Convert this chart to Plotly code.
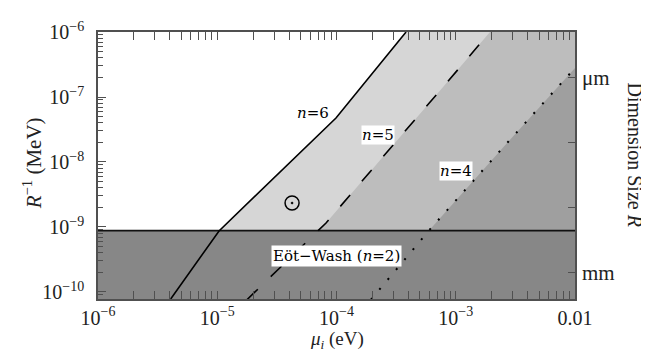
import plotly.graph_objects as go

# ---- data ----
mu_range = [1e-6, 1e-2]          # x-axis extent (eV)
R_range = [7.8e-11, 1e-6]        # y-axis extent (MeV)
eot_wash = 8.8e-10               # Eot-Wash bound on R^-1 (MeV)

n6_mu = [4.07e-6, 1.035e-5, 9.9e-5, 3.83e-4]
n6_R = [7.8e-11, 8.7e-10, 4.75e-8, 1.0e-6]
n5_mu = [1.778e-5, 8.17e-5, 8.61e-4, 1.936e-3]
n5_R = [7.62e-11, 1.153e-9, 1.746e-7, 1.0e-6]
n4_mu = [1.945e-4, 6.05e-4, 2.742e-3, 1.0e-2]
n4_R = [7.62e-11, 9.10e-10, 2.03e-8, 2.79e-7]

sun_mu = [4.24e-5]
sun_R = [2.34e-9]

x_tickvals = [1e-6, 1e-5, 1e-4, 1e-3, 1e-2]
x_ticktext = ["10<sup>\u22126</sup>", "10<sup>\u22125</sup>", "10<sup>\u22124</sup>",
              "10<sup>\u22123</sup>", "0.01"]
y_tickvals = [1e-10, 1e-9, 1e-8, 1e-7, 1e-6]
y_ticktext = ["10<sup>\u221210</sup>", "10<sup>\u22129</sup>", "10<sup>\u22128</sup>",
              "10<sup>\u22127</sup>", "10<sup>\u22126</sup>"]
size_tickvals = [1.973e-7, 1.973e-8, 1.973e-9, 1.973e-10]   # 1 um, 10 um, 100 um, 1 mm
size_ticktext = ["\u03bcm", "", "", "mm"]

x_minor = [m * 10.0 ** k for k in range(-6, -2) for m in range(2, 10)]
y_minor = [m * 10.0 ** k for k in range(-11, -6) for m in range(2, 10)]

c_n6 = "#d6d6d6"
c_n5 = "#bdbdbd"
c_n4 = "#9f9f9f"
c_ew = "#878787"
axc = "#505050"
TF = "Liberation Serif, DejaVu Serif, serif"
AF = "DejaVu Serif, Liberation Serif, serif"

xmin, xmax = mu_range
ymin, ymax = R_range

fig = go.Figure()


def poly(xs, ys, color):
    fig.add_trace(go.Scatter(x=xs, y=ys, mode="lines", fill="toself", fillcolor=color,
                             line=dict(width=0, color=color), hoverinfo="skip",
                             showlegend=False))


poly(n6_mu + [xmax, xmax], n6_R + [ymax, ymin], c_n6)
poly(n5_mu + [xmax, xmax], n5_R + [ymax, ymin], c_n5)
poly(n4_mu + [xmax], n4_R + [ymin], c_n4)
poly([xmin, xmin, xmax, xmax], [ymin, eot_wash, eot_wash, ymin], c_ew)

fig.add_trace(go.Scatter(x=[xmin, xmax], y=[eot_wash, eot_wash], mode="lines",
                         line=dict(color="#111", width=1.6), showlegend=False, hoverinfo="skip"))
fig.add_trace(go.Scatter(x=n6_mu, y=n6_R, mode="lines",
                         line=dict(color="black", width=1.6), showlegend=False))
fig.add_trace(go.Scatter(x=n5_mu, y=n5_R, mode="lines",
                         line=dict(color="black", width=1.6, dash="15px,18px"), showlegend=False))
fig.add_trace(go.Scatter(x=n4_mu, y=n4_R, mode="lines",
                         line=dict(color="black", width=2, dash="2px,11px"), showlegend=False))
fig.add_trace(go.Scatter(x=sun_mu, y=sun_R, mode="markers",
                         marker=dict(symbol="circle-open-dot", size=14, color="black",
                                     line=dict(width=1.5, color="black")),
                         showlegend=False))
# trace carrying the right-hand size axis
fig.add_trace(go.Scatter(x=[xmin], y=[ymax], yaxis="y2", mode="none", showlegend=False,
                         hoverinfo="skip"))

fig.update_layout(
    width=649, height=352,
    margin=dict(l=90, r=82, t=24, b=61),
    paper_bgcolor="white", plot_bgcolor="white",
    font=dict(family=TF, size=20, color="#222"),
    xaxis=dict(type="log", range=[-6, -2], tickvals=x_tickvals, ticktext=x_ticktext,
               ticks="inside", ticklen=8, tickwidth=1.2, tickcolor=axc,
               showline=True, linecolor=axc, linewidth=1.5, mirror="allticks",
               showgrid=False, zeroline=False, tickfont=dict(family=TF, size=20),
               ticklabelstandoff=0,
               minor=dict(tickmode="array", tickvals=x_minor, ticks="inside", ticklen=5,
                          tickwidth=1.2, tickcolor=axc, showgrid=False)),
    yaxis=dict(type="log", range=[-10.108, -6], tickvals=y_tickvals, ticktext=y_ticktext,
               ticks="inside", ticklen=8, tickwidth=1.2, tickcolor=axc,
               showline=True, linecolor=axc, linewidth=1.5, mirror=True,
               showgrid=False, zeroline=False, tickfont=dict(family=TF, size=20),
               ticklabelstandoff=8,
               minor=dict(tickmode="array", tickvals=y_minor, ticks="inside", ticklen=5,
                          tickwidth=1.2, tickcolor=axc, showgrid=False)),
    yaxis2=dict(type="log", range=[-10.108, -6], overlaying="y", side="right", anchor="x",
                tickvals=size_tickvals, ticktext=size_ticktext, ticks="inside", ticklen=7,
                tickwidth=1.2, tickcolor=axc, showline=False, showgrid=False, zeroline=False,
                tickfont=dict(family=TF, size=21), ticklabelstandoff=6),
    annotations=[
        dict(x=-4.197, y=-7.246, xref="x", yref="y", text="<i>n</i>=6", showarrow=False,
             font=dict(family=AF, size=15, color="black")),
        dict(x=-3.652, y=-7.585, xref="x", yref="y", text="<i>n</i>=5", showarrow=False,
             font=dict(family=AF, size=15, color="black"), bgcolor="white", borderpad=0),
        dict(x=-2.998, y=-8.138, xref="x", yref="y", text="<i>n</i>=4", showarrow=False,
             font=dict(family=AF, size=15, color="black"), bgcolor="white", borderpad=0),
        dict(x=-4.004, y=-9.454, xref="x", yref="y", text="E\u00f6t\u2212Wash (<i>n</i>=2)",
             showarrow=False, font=dict(family=AF, size=15, color="black"),
             bgcolor="white", borderpad=1),
        dict(x=0.5, y=-0.155, xref="paper", yref="paper", xanchor="center", yanchor="middle",
             text="<i>\u03bc<sub>i</sub></i> (eV)", showarrow=False,
             font=dict(family=TF, size=19, color="#222")),
        dict(x=-0.138, y=0.509, xref="paper", yref="paper", xanchor="center", yanchor="middle",
             text="<i>R</i><sup>\u22121</sup> (MeV)", textangle=-90, showarrow=False,
             font=dict(family=TF, size=21, color="#222")),
        dict(x=1.126, y=0.541, xref="paper", yref="paper", xanchor="center", yanchor="middle",
             text="Dimension Size <i>R</i>", textangle=90, showarrow=False,
             font=dict(family=TF, size=20, color="#222")),
    ],
)

fig.write_html("out.html")
